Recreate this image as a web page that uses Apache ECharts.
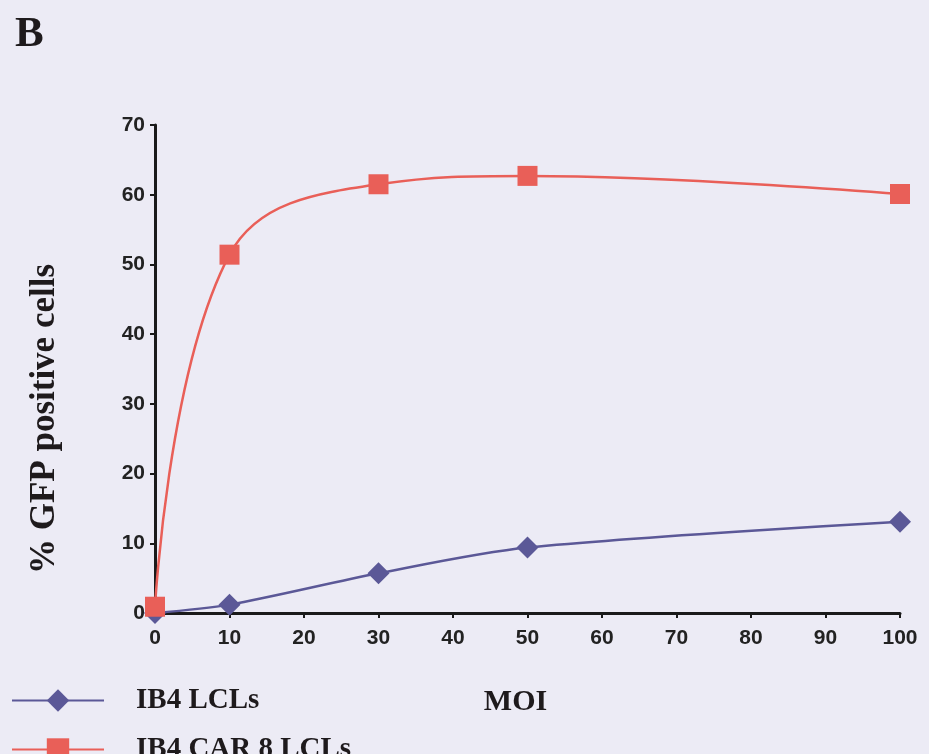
<!DOCTYPE html>
<html>
<head>
<meta charset="utf-8">
<script src="https://cdn.jsdelivr.net/npm/echarts@6/dist/echarts.min.js"></script>
<style>
  html, body { margin: 0; padding: 0; background: #ecebf5; }
  #chart { width: 929px; height: 754px; }
</style>
</head>
<body>
<div id="chart"></div>
<script>
const moi = [0, 10, 30, 50, 100]
const ib4 = [0, 1.2, 5.7, 9.4, 13.1]
const ib4Car8 = [0.9, 51.4, 61.5, 62.7, 60.1]
const seriesNames = ['IB4 LCLs', 'IB4 CAR 8 LCLs']

const chart = echarts.init(document.getElementById('chart'))

const sans = 'Liberation Sans, Arial, sans-serif'
const serif = 'Liberation Serif, Times New Roman, serif'
const blue = '#5b5897'
const red = '#e95f58'

// one legend per row so they stack like the original key
const legendRow = (name, top) => ({
  left: 6,
  top: top,
  itemWidth: 92,
  itemHeight: 28,
  data: [name],
  textStyle: {
    fontFamily: serif,
    fontSize: 29,
    fontWeight: 'bold',
    color: '#1e1a1c',
    padding: [0, 0, 0, 27]
  }
})

const option = {
  backgroundColor: '#ecebf5',
  animation: false,
  title: {
    text: 'B',
    left: 10,
    top: 8,
    textStyle: { fontFamily: serif, fontSize: 43, fontWeight: 'bold', color: '#1e1a1c' }
  },
  legend: [legendRow(seriesNames[0], 681), legendRow(seriesNames[1], 730)],
  grid: { left: 155, right: 29, top: 125, bottom: 141 },
  xAxis: {
    type: 'value',
    min: 0,
    max: 100,
    interval: 10,
    name: 'MOI',
    nameLocation: 'middle',
    nameGap: 74,
    nameTextStyle: {
      fontFamily: serif, fontSize: 30, fontWeight: 'bold', color: '#1e1a1c',
      padding: [0, 24, 0, 0]
    },
    axisLine: { show: true, lineStyle: { color: '#1a1a1a', width: 3 } },
    axisTick: { show: true, length: 5, lineStyle: { color: '#1a1a1a', width: 2 } },
    axisLabel: { fontFamily: sans, fontSize: 21, fontWeight: 'bold', color: '#222', margin: 15 },
    splitLine: { show: false }
  },
  yAxis: {
    type: 'value',
    min: 0,
    max: 70,
    interval: 10,
    name: '% GFP positive cells',
    nameLocation: 'middle',
    nameGap: 93,
    nameTextStyle: {
      fontFamily: serif, fontSize: 35, fontWeight: 'bold', color: '#1e1a1c',
      padding: [0, 100, 0, 0]
    },
    axisLine: { show: true, lineStyle: { color: '#1a1a1a', width: 3 } },
    axisTick: { show: true, length: 5, lineStyle: { color: '#1a1a1a', width: 2 } },
    axisLabel: { fontFamily: sans, fontSize: 21, fontWeight: 'bold', color: '#222', margin: 10 },
    splitLine: { show: false }
  },
  series: [
    {
      name: seriesNames[0],
      type: 'line',
      data: moi.map((x, i) => [x, ib4[i]]),
      smooth: 0.3,
      symbol: 'diamond',
      symbolSize: 22,
      lineStyle: { color: blue, width: 2.5 },
      itemStyle: { color: blue },
      z: 3
    },
    {
      name: seriesNames[1],
      type: 'line',
      data: moi.map((x, i) => [x, ib4Car8[i]]),
      smooth: 0.4,
      symbol: 'rect',
      symbolSize: 20,
      lineStyle: { color: red, width: 2.5 },
      itemStyle: { color: red },
      z: 4
    }
  ]
}

chart.setOption(option)
</script>
</body>
</html>
